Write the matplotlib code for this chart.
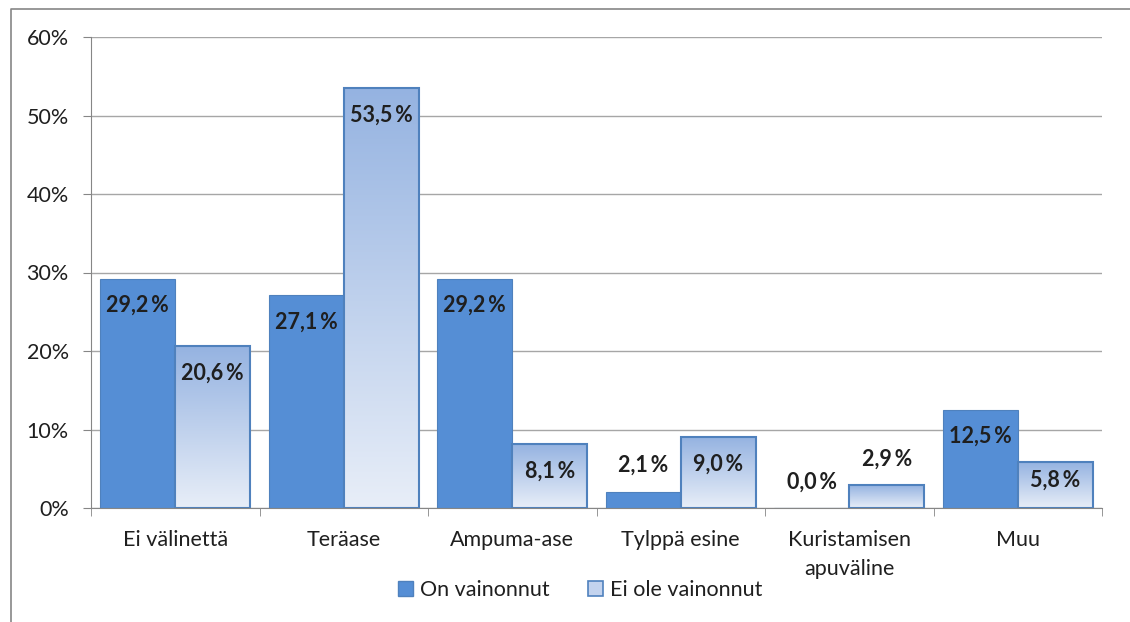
import numpy as np
import matplotlib
matplotlib.use("Agg")
import matplotlib.pyplot as plt
from matplotlib.lines import Line2D
from matplotlib.patches import Patch
from matplotlib.colors import LinearSegmentedColormap

plt.rcParams["font.family"] = ["Lato", "DejaVu Sans"]

categories = ["Ei välinettä", "Teräase", "Ampuma-ase", "Tylppä esine",
              "Kuristamisen\napuväline", "Muu"]
on_vainonnut = [29.2, 27.1, 29.2, 2.1, 0.0, 12.5]
ei_ole_vainonnut = [20.6, 53.5, 8.1, 9.0, 2.9, 5.8]
series_names = ["On vainonnut", "Ei ole vainonnut"]
yticks = [0, 10, 20, 30, 40, 50, 60]

solid = "#558ED5"
edge = "#4F81BD"
grad = LinearSegmentedColormap.from_list("g", ["#E8EEF8", "#95B3E1"])
text_col = "#1F1F1F"

fig = plt.figure(figsize=(11.3, 6.22), dpi=100)
ax = fig.add_axes([91 / 1130, 1 - 508 / 622, (1102 - 91) / 1130, (508 - 37) / 622])

x = np.arange(len(categories))
w = 0.445
b1 = ax.bar(x - w / 2, on_vainonnut, w, color=solid, edgecolor=edge, linewidth=0.8, zorder=3)
b2 = ax.bar(x + w / 2, ei_ole_vainonnut, w, color="none", edgecolor=edge, linewidth=1.5, zorder=4)

# gradient fill for the second series
g = np.linspace(0, 1, 256).reshape(-1, 1)
for bar in b2:
    x0, y0 = bar.get_x(), bar.get_y()
    ax.imshow(g, cmap=grad, origin="lower", aspect="auto",
              extent=[x0, x0 + bar.get_width(), y0, y0 + bar.get_height()], zorder=3)

ax.set_xlim(-0.5, len(categories) - 0.5)
ax.set_ylim(0, 60)

def fmt(v):
    return f"{v:.1f}".replace(".", ",") + "\u2009%"

for bars, vals in [(b1, on_vainonnut), (b2, ei_ole_vainonnut)]:
    for bar, v in zip(bars, vals):
        cx = bar.get_x() + bar.get_width() / 2
        if v >= 5:
            y = max(v - 3.4, 3.5)
        else:
            y = v + 3.3
        ax.text(cx, y, fmt(v), ha="center", va="center", fontsize=15.5,
                fontweight="bold", color=text_col, zorder=5)

ax.set_yticks(yticks)
ax.set_yticklabels([f"{t}%" for t in yticks])
ax.set_xticks(x)
ax.set_xticklabels(categories, linespacing=1.55)
ax.set_xticks(np.arange(len(categories) + 1) - 0.5, minor=True)
ax.tick_params(axis="x", which="major", length=0, pad=16, labelsize=15.5, labelcolor=text_col)
ax.tick_params(axis="x", which="minor", length=6, color="#868686", direction="out")
ax.tick_params(axis="y", length=6, color="#868686", pad=10, labelsize=15.5, labelcolor=text_col)

ax.yaxis.grid(True, color="#A6A6A6", linewidth=1.0, zorder=0)
ax.set_axisbelow(True)
for s in ["top", "right"]:
    ax.spines[s].set_visible(False)
for s in ["left", "bottom"]:
    ax.spines[s].set_color("#868686")
    ax.spines[s].set_zorder(6)

handles = [Patch(facecolor=solid, edgecolor=edge),
           Patch(facecolor="#C3D3EE", edgecolor=edge, linewidth=1.2)]
fig.legend(handles, series_names, loc="center", bbox_to_anchor=(580 / 1130, 1 - 590 / 622),
           ncol=2, frameon=False, fontsize=15.5, handlelength=0.7, handleheight=0.7,
           handletextpad=0.3, columnspacing=1.8, labelcolor=text_col)

# outer chart border (only top and left visible)
fig.add_artist(Line2D([11 / 1130, 11 / 1130, 1.0], [0.0, 1 - 9 / 622, 1 - 9 / 622],
                      transform=fig.transFigure, color="#868686", linewidth=1.2))

fig.savefig("out.png", dpi=100)
